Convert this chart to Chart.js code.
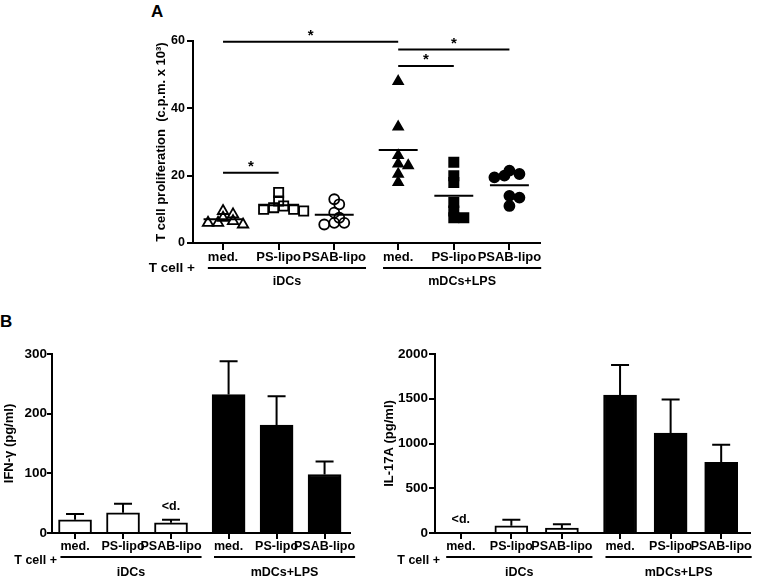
<!DOCTYPE html>
<html lang="en">
<head>
<meta charset="UTF-8">
<title>T cell proliferation and cytokines</title>
<script src="https://cdn.jsdelivr.net/npm/chart.js"></script>
<style>
  body { margin: 0; background: #fff; font-family: Arial, "Liberation Sans", sans-serif; }
  #wrap { position: relative; width: 761px; height: 579px; overflow: hidden; }
  canvas { position: absolute; }
  .panel { position: absolute; font-weight: bold; font-size: 17px; line-height: 1; }
</style>
</head>
<body>
<div id="wrap">
  <div class="panel" style="left:151px;top:3px">A</div>
  <div class="panel" style="left:0px;top:313px">B</div>
  <canvas id="chartA" width="560" height="295" style="left:0;top:0"></canvas>
  <canvas id="chartIfn" width="380" height="279" style="left:0;top:300px"></canvas>
  <canvas id="chartIl17" width="381" height="279" style="left:380px;top:300px"></canvas>
</div>
<script>
const fontFamily = 'Arial, "Liberation Sans", sans-serif';
Chart.defaults.font.family = fontFamily;
Chart.defaults.font.weight = 'bold';
Chart.defaults.color = '#000';

// categories shared by all three panels
const categories = ['med.', 'PS-lipo', 'PSAB-lipo', 'med.', 'PS-lipo', 'PSAB-lipo'];
const groupNames = ['iDCs', 'mDCs+LPS'];
const rowLabel = 'T cell +';

// A: T cell proliferation (c.p.m. x 10^3), one array per condition
const prolifIdcMed = [9.5, 8.5, 7.5, 6.5, 6, 5.5, 6];
const prolifIdcPs = [15, 12.5, 11, 10.5, 10, 9.5, 10];
const prolifIdcPsab = [13, 11.5, 9, 7.5, 6, 5.5, 6];
const prolifMdcMed = [48, 34.5, 26, 23.5, 23, 20.5, 18];
const prolifMdcPs = [24, 20, 18, 12, 9.5, 7.5, 7.5];
const prolifMdcPsab = [21.5, 20.5, 20, 19.5, 14, 13.5, 11];
const prolifTicks = [0, 20, 40, 60];
// significance bars: from / to category index, height
const sigFrom = [0, 3, 3, 0];
const sigTo = [3, 5, 4, 1];
const sigLevel = [59.8, 57.5, 52.6, 20.9];

// B: cytokines (pg/ml), mean and SEM
const ifnMean = [22, 34, 17, 232, 181, 98];
const ifnSem = [10, 15, 5, 56, 48, 22];
const ifnBelowDet = [false, false, true, false, false, false];
const ifnTicks = [0, 100, 200, 300];
const il17Mean = [null, 80, 55, 1540, 1117, 790];
const il17Sem = [null, 67, 42, 337, 375, 197];
const il17BelowDet = [true, false, false, false, false, false];
const il17Ticks = [0, 500, 1000, 1500, 2000];

// x position of a category, with a small gap between the two DC groups
function catPos(i, gap) { return i < 3 ? i : i + gap; }

// simple swarm so points of one column do not sit exactly on top of each other
function swarm(values, pxX, pxY, minDist, step) {
  const order = values.map((v, i) => i).sort((a, b) => values[b] - values[a]);
  const dx = values.map(() => 0);
  const placed = [];
  order.forEach(i => {
    for (let k = 0; k < 20; k++) {
      const off = (k % 2 ? 1 : -1) * Math.ceil(k / 2) * step;
      const ok = placed.every(j => Math.hypot((off - dx[j]) * pxX, (values[i] - values[j]) * pxY) >= minDist);
      if (ok) { dx[i] = off; break; }
    }
    placed.push(i);
  });
  return dx;
}

const black = '#000';
const axisBorder = { color: black, width: 2 };
const tickGrid = len => ({ drawOnChartArea: false, color: black, lineWidth: 2, tickLength: len, offset: false });

// grouping lines, group names and "T cell +" under the x axis
const groupAxis = {
  id: 'groupAxis',
  afterDraw(chart, args, o) {
    if (!o || !o.positions) return;
    const { ctx, chartArea } = chart;
    const x = chart.scales.x;
    ctx.save();
    ctx.fillStyle = black;
    ctx.strokeStyle = black;
    ctx.lineWidth = 2;
    const lineY = chartArea.bottom + o.lineGap;
    groupNames.forEach((name, g) => {
      const a = g * 3, b = g * 3 + 2;
      ctx.font = `bold ${o.tickSize}px ${fontFamily}`;
      const left = x.getPixelForValue(o.positions[a]) - ctx.measureText(categories[a]).width / 2;
      const right = x.getPixelForValue(o.positions[b]) + ctx.measureText(categories[b]).width / 2;
      ctx.beginPath();
      ctx.moveTo(left, lineY);
      ctx.lineTo(right, lineY);
      ctx.stroke();
      ctx.font = `bold ${o.groupSize}px ${fontFamily}`;
      ctx.textAlign = 'center';
      ctx.textBaseline = 'middle';
      ctx.fillText(name, (left + right) / 2, chartArea.bottom + o.groupGap);
    });
    ctx.font = `bold ${o.rowSize}px ${fontFamily}`;
    ctx.textAlign = 'right';
    ctx.textBaseline = 'middle';
    ctx.fillText(rowLabel, chartArea.left + o.rowDx, lineY + o.rowDy);
    ctx.restore();
  }
};

// mean lines and significance bars for panel A
const scatterExtras = {
  id: 'scatterExtras',
  afterDatasetsDraw(chart, args, o) {
    if (!o || !o.sets) return;
    const { ctx } = chart;
    const { x, y } = chart.scales;
    ctx.save();
    ctx.strokeStyle = black;
    ctx.fillStyle = black;
    ctx.lineWidth = 2;
    o.sets.forEach((vals, i) => {
      const m = vals.reduce((s, v) => s + v, 0) / vals.length;
      const p = o.positions[i];
      ctx.beginPath();
      ctx.moveTo(x.getPixelForValue(p - o.halfWidth), y.getPixelForValue(m));
      ctx.lineTo(x.getPixelForValue(p + o.halfWidth), y.getPixelForValue(m));
      ctx.stroke();
    });
    ctx.font = `bold 15px ${fontFamily}`;
    ctx.textAlign = 'center';
    ctx.textBaseline = 'middle';
    sigFrom.forEach((f, k) => {
      const x1 = x.getPixelForValue(o.positions[f]);
      const x2 = x.getPixelForValue(o.positions[sigTo[k]]);
      const yy = y.getPixelForValue(sigLevel[k]);
      ctx.beginPath();
      ctx.moveTo(x1, yy);
      ctx.lineTo(x2, yy);
      ctx.stroke();
      ctx.fillText('*', (x1 + x2) / 2, yy - 6);
    });
    ctx.restore();
  }
};

// SEM error bars (upper only) and "<d." marks for panel B
const errorBars = {
  id: 'errorBars',
  afterDatasetsDraw(chart, args, o) {
    if (!o || !o.mean) return;
    const { ctx } = chart;
    const { x, y } = chart.scales;
    ctx.save();
    ctx.strokeStyle = black;
    ctx.fillStyle = black;
    ctx.lineWidth = 2;
    ctx.font = `bold 12.5px ${fontFamily}`;
    ctx.textAlign = 'center';
    ctx.textBaseline = 'middle';
    o.mean.forEach((m, i) => {
      const px = x.getPixelForValue(o.positions[i]);
      let ref = y.getPixelForValue(0);
      if (m != null && o.sem[i] != null) {
        const base = y.getPixelForValue(m);
        const top = y.getPixelForValue(m + o.sem[i]);
        ctx.beginPath();
        ctx.moveTo(px, base);
        ctx.lineTo(px, top);
        ctx.moveTo(px - 9, top);
        ctx.lineTo(px + 9, top);
        ctx.stroke();
        ref = top;
      }
      if (o.belowDet[i]) ctx.fillText('<d.', px, ref - 13);
    });
    ctx.restore();
  }
};

Chart.register(groupAxis, scatterExtras, errorBars);

// ---------- panel A ----------
const gapA = 0.15;
const posA = categories.map((c, i) => catPos(i, gapA));
const prolifSets = [prolifIdcMed, prolifIdcPs, prolifIdcPsab, prolifMdcMed, prolifMdcPs, prolifMdcPsab];
const markers = [
  { style: 'triangle', filled: false, r: 6 },
  { style: 'rect', filled: false, r: 6.5 },
  { style: 'circle', filled: false, r: 5 },
  { style: 'triangle', filled: true, r: 5.5 },
  { style: 'rect', filled: true, r: 6.5 },
  { style: 'circle', filled: true, r: 5 }
];

new Chart(document.getElementById('chartA'), {
  type: 'scatter',
  data: {
    datasets: prolifSets.map((vals, i) => {
      const dx = swarm(vals, 55.6, 3.37, 6.5, 0.09);
      return {
        data: vals.map((v, j) => ({ x: posA[i] + dx[j], y: v })),
        pointStyle: markers[i].style,
        pointRadius: markers[i].r,
        pointBackgroundColor: markers[i].filled ? black : 'rgba(0,0,0,0)',
        pointBorderColor: black,
        pointBorderWidth: 1.8
      };
    })
  },
  options: {
    responsive: false, animation: false, events: [],
    layout: { padding: { left: 151, top: 41, right: 20, bottom: 0 } },
    plugins: {
      legend: { display: false }, tooltip: { enabled: false },
      groupAxis: { positions: posA, tickSize: 13, groupSize: 12.5, rowSize: 13.5, lineGap: 25, groupGap: 39, rowDx: 2, rowDy: 0 },
      scatterExtras: { sets: prolifSets, positions: posA, halfWidth: 0.35 }
    },
    scales: {
      x: {
        type: 'linear', min: -0.54, max: 5.70, offset: false,
        afterBuildTicks: s => { s.ticks = posA.map(v => ({ value: v })); },
        afterFit: s => { s.height = 52; },
        ticks: { autoSkip: false, maxRotation: 0, minRotation: 0, padding: 0, font: { size: 13 }, callback: (v, i) => categories[i] },
        grid: tickGrid(7), border: axisBorder
      },
      y: {
        min: 0, max: 60,
        afterBuildTicks: s => { s.ticks = prolifTicks.map(v => ({ value: v })); },
        afterFit: s => { s.width = 42; },
        ticks: { padding: 2, font: { size: 12.5 }, callback: v => String(v) },
        grid: tickGrid(6), border: axisBorder,
        title: { display: true, text: 'T cell proliferation  (c.p.m. x 10³)', font: { size: 13 }, padding: { top: 3, bottom: 0 } }
      }
    }
  }
});

// ---------- panel B ----------
function cytokineChart(id, mean, sem, belowDet, ticks, yMax, title, gap, xMin, xMax, yWidth, padRight, tickPad, tickLen) {
  const pos = categories.map((c, i) => catPos(i, gap));
  return new Chart(document.getElementById(id), {
    type: 'bar',
    data: {
      datasets: [{
        data: mean.map((v, i) => ({ x: pos[i], y: v })),
        backgroundColor: categories.map((c, i) => i < 3 ? '#fff' : black),
        borderColor: black,
        borderWidth: 2,
        barThickness: 33,
        grouped: false
      }]
    },
    options: {
      responsive: false, animation: false, events: [],
      layout: { padding: { left: 0, top: 54, right: padRight, bottom: 0 } },
      plugins: {
        legend: { display: false }, tooltip: { enabled: false },
        groupAxis: { positions: pos, tickSize: 12.5, groupSize: 12.5, rowSize: 12.5, lineGap: 24, groupGap: 40, rowDx: 5, rowDy: 4 },
        errorBars: { mean: mean, sem: sem, belowDet: belowDet, positions: pos }
      },
      scales: {
        x: {
          type: 'linear', min: xMin, max: xMax, offset: false,
          afterBuildTicks: s => { s.ticks = pos.map(v => ({ value: v })); },
          afterFit: s => { s.height = 46; },
          ticks: { autoSkip: false, maxRotation: 0, minRotation: 0, padding: 0, font: { size: 12.5 }, callback: (v, i) => categories[i] },
          grid: tickGrid(6), border: axisBorder
        },
        y: {
          min: 0, max: yMax,
          afterBuildTicks: s => { s.ticks = ticks.map(v => ({ value: v })); },
          afterFit: s => { s.width = yWidth; },
          ticks: { padding: tickPad, font: { size: 13.5 }, callback: v => String(v) },
          grid: tickGrid(tickLen), border: axisBorder,
          title: { display: true, text: title, font: { size: 13 }, padding: { top: 2, bottom: 0 } }
        }
      }
    }
  });
}

cytokineChart('chartIfn', ifnMean, ifnSem, ifnBelowDet, ifnTicks, 300, 'IFN-γ (pg/ml)', 0.2, -0.48, 5.73, 52, 30, 0, 5);
cytokineChart('chartIl17', il17Mean, il17Sem, il17BelowDet, il17Ticks, 2000, 'IL-17A (pg/ml)', 0.15, -0.51, 5.72, 55, 11, 1, 6);
</script>
</body>
</html>
